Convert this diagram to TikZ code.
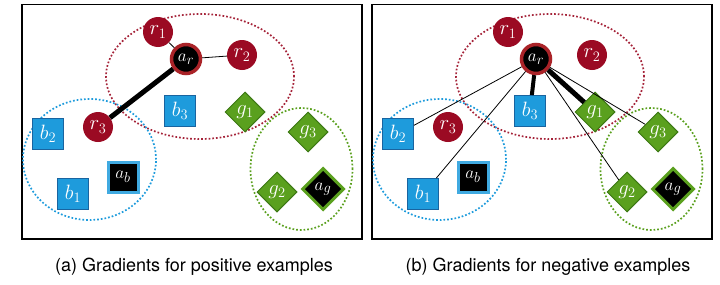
\documentclass[tikz,border=0pt]{standalone}
\usepackage{fontspec}
\setsansfont{TeX Gyre Heros}
\usetikzlibrary{shapes.geometric, positioning, backgrounds}
\usepackage{xcolor}
\definecolor{setred}{RGB}{155,10,35}
\definecolor{ringred}{RGB}{170,35,40}
\definecolor{setblue}{RGB}{30,155,220}
\definecolor{darkblue}{RGB}{25,100,160}
\definecolor{setgreen}{RGB}{90,160,30}
\definecolor{darkgreen}{RGB}{60,120,20}
\tikzset{
  rpt/.style = {circle, fill=setred, minimum size=30pt, inner sep=0pt, text=white, font=\fontsize{20}{20}\selectfont},
  bpt/.style = {rectangle, fill=setblue, draw=darkblue, line width=1pt, minimum size=31pt, inner sep=0pt, text=white, font=\fontsize{20}{20}\selectfont},
  gpt/.style = {diamond, aspect=1, fill=setgreen, draw=darkgreen, line width=1pt, minimum size=40pt, inner sep=0pt, text=white, font=\fontsize{20}{20}\selectfont},
  ranchor/.style = {circle, fill=black, draw=ringred, line width=3.5pt, minimum size=29pt, inner sep=0pt, text=white, font=\fontsize{19}{19}\selectfont},
  banchor/.style = {bpt, fill=black, draw=setblue!85, line width=3pt, minimum size=30pt, font=\fontsize{19}{19}\selectfont},
  ganchor/.style = {gpt, fill=black, draw=setgreen, line width=3pt, minimum size=42pt, font=\fontsize{19}{19}\selectfont},
  cluster/.style = {ellipse, dotted, line width=1.7pt, inner sep=0pt},
  grad/.style = {line width=0.8pt},
  biggrad/.style = {line width=5pt},
  caption/.style = {font=\sffamily\fontsize{18}{18}\selectfont}
}
\newcommand{\pointset}{%
  % clusters
  \node[cluster, draw=setred!90, minimum width=188pt, minimum height=125pt] (redset) at (200,76.5) {};
  \node[cluster, draw=setblue, minimum width=133pt, minimum height=121pt] (blueset) at (89.5,159.5) {};
  \node[cluster, draw=setgreen, minimum width=102pt, minimum height=122pt] (greenset) at (301.5,169) {};
  % points
  \node[rpt] (r1) at (158,32) {$r_1$};
  \node[rpt] (r2) at (242,55) {$r_2$};
  \node[rpt] (r3) at (98,127) {$r_3$};
  \node[ranchor] (ar) at (186,59) {$a_r$};
  \node[bpt] (b1) at (73,194) {$b_1$};
  \node[bpt] (b2) at (48,134) {$b_2$};
  \node[bpt] (b3) at (180,111) {$b_3$};
  \node[banchor] (ab) at (123,177) {$a_b$};
  \node[gpt] (g1) at (245,112) {$g_1$};
  \node[gpt] (g2) at (277,192) {$g_2$};
  \node[gpt] (g3) at (308,132) {$g_3$};
  \node[ganchor] (ag) at (323,189) {$a_g$};
}

\begin{document}
\begin{tikzpicture}[x=1pt, y=-1pt]
\useasboundingbox (0,0) rectangle (720,284);

% (a) positive examples
\draw[line width=1.2pt] (22,4.5) rectangle (362,239);
\begin{scope}[name prefix=p-]
  \pointset
\end{scope}
\draw[grad] (p-ar) -- (p-r1);
\draw[grad] (p-ar) -- (p-r2);
\draw[biggrad] (p-ar) -- (p-r3);
\node[caption] (capa) at (194,267) {(a) Gradients for positive examples};

% (b) negative examples
\draw[line width=1.2pt] (372,4.5) rectangle (712,239);
\begin{scope}[xshift=350pt, name prefix=n-]
  \pointset
\end{scope}
\draw[grad] (n-ar) -- (n-b1);
\draw[grad] (n-ar) -- (n-b2);
\draw[line width=4pt] (n-ar) -- (n-b3);
\draw[biggrad] (n-ar) -- (n-g1);
\draw[grad] (n-ar) -- (n-g2);
\draw[grad] (n-ar) -- (n-g3);
\node[caption] (capb) at (548,267) {(b) Gradients for negative examples};
\end{tikzpicture}
\end{document}
